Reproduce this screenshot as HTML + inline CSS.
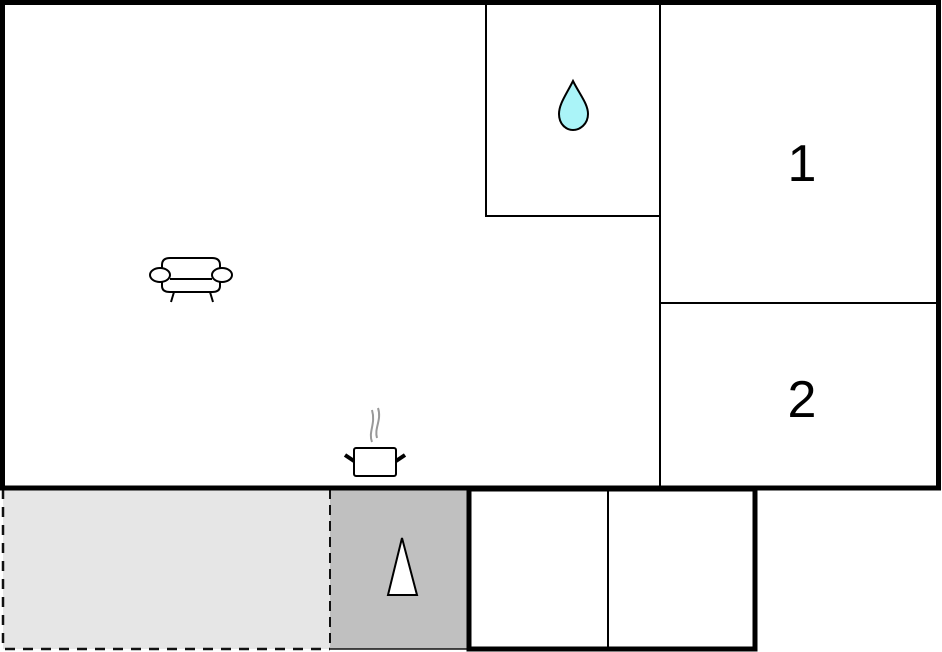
<!DOCTYPE html>
<html><head><style>html,body{margin:0;padding:0;background:#fff;width:942px;height:652px;overflow:hidden}</style></head>
<body>
<svg width="942" height="652" viewBox="0 0 942 652" xmlns="http://www.w3.org/2000/svg">
<rect x="0" y="0" width="942" height="652" fill="#fff"/>
<!-- bottom lighter area -->
<rect x="3" y="489" width="327" height="160" fill="#e6e6e6"/>
<rect x="330" y="489" width="137" height="160" fill="#c0c0c0"/>
<path d="M3 489 V649 H330" fill="none" stroke="#111" stroke-width="2.5" stroke-dasharray="10,8"/>
<line x1="330" y1="489" x2="330" y2="649" stroke="#111" stroke-width="2" stroke-dasharray="10,6"/>
<line x1="330" y1="649" x2="467" y2="649" stroke="#111" stroke-width="1.5"/>
<!-- white annex -->
<rect x="469" y="489" width="286" height="160" fill="#fff" stroke="#000" stroke-width="5"/>
<line x1="608" y1="489" x2="608" y2="648" stroke="#000" stroke-width="2"/>
<!-- main building -->
<rect x="2.5" y="2.5" width="936" height="485.5" fill="none" stroke="#000" stroke-width="5"/>
<path d="M486 3 V216 H660" fill="none" stroke="#000" stroke-width="2"/>
<line x1="660" y1="3" x2="660" y2="488" stroke="#000" stroke-width="2"/>
<line x1="660" y1="303" x2="938" y2="303" stroke="#000" stroke-width="2"/>
<!-- water drop -->
<path d="M573 81 C566 95 559 104 559 114 C559 124 566 130 573 130 C580 130 588 124 588 114 C588 104 580 95 573 81 Z" fill="#aaf4f8" stroke="#000" stroke-width="2"/>
<text x="802" y="181" font-family="Liberation Sans, sans-serif" font-size="52" text-anchor="middle">1</text>
<text x="802" y="417" font-family="Liberation Sans, sans-serif" font-size="52" text-anchor="middle">2</text>
<!-- sofa -->
<g fill="none" stroke="#000" stroke-width="2">
<path d="M162 270 V265 Q162 258 170 258 H212 Q220 258 220 265 V270"/>
<path d="M162 282 V286 Q162 292 170 292 H212 Q220 292 220 286 V282"/>
<line x1="170" y1="279" x2="212" y2="279"/>
<ellipse cx="160" cy="275" rx="10" ry="7" fill="#fff"/>
<ellipse cx="222" cy="275" rx="10" ry="7" fill="#fff"/>
<line x1="174" y1="292" x2="171" y2="302"/>
<line x1="210" y1="292" x2="213" y2="302"/>
</g>
<!-- pot -->
<g fill="none">
<path d="M372 442 C368 432 376 424 372 410 M377 438 C374 428 382 420 378 408" stroke="#999" stroke-width="2"/>
<rect x="354" y="448" width="42" height="28" rx="2" fill="#fff" stroke="#000" stroke-width="2"/>
<line x1="345" y1="455" x2="354" y2="461" stroke="#000" stroke-width="4"/>
<line x1="405" y1="455" x2="396" y2="461" stroke="#000" stroke-width="4"/>
</g>
<!-- triangle -->
<polygon points="402,538 388,595 417,595" fill="#fff" stroke="#000" stroke-width="2"/>
</svg>
</body></html>
